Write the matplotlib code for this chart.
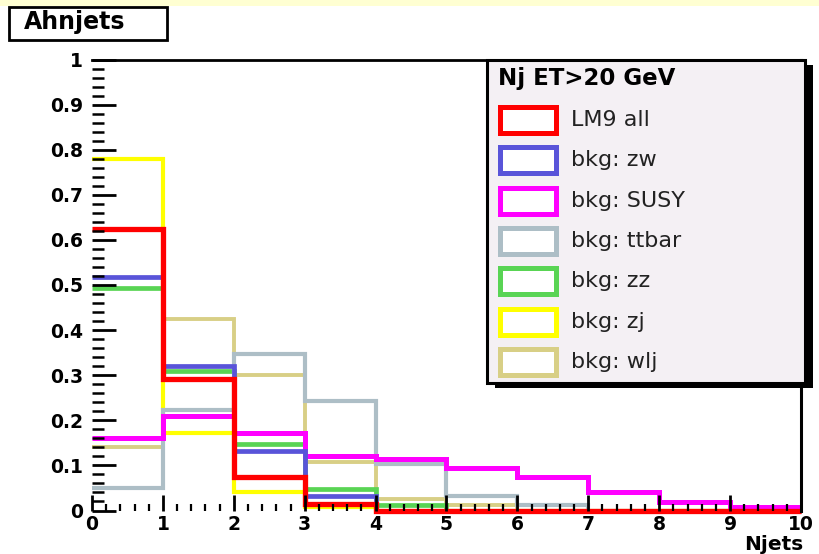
import matplotlib
matplotlib.use("Agg")
import matplotlib.pyplot as plt
import matplotlib.patches as patches
import numpy as np

# jet multiplicity bins 0..10
edges = np.arange(0, 11)

# normalised Njets distributions, one list per sample
lm9_all = [0.624, 0.292, 0.074, 0.014, 0, 0, 0, 0, 0, 0]
bkg_zw = [0.518, 0.320, 0.132, 0.032, 0, 0, 0, 0, 0, 0]
bkg_susy = [0.161, 0.210, 0.172, 0.121, 0.114, 0.094, 0.074, 0.042, 0.019, 0.008]
bkg_ttbar = [0.050, 0.223, 0.346, 0.243, 0.103, 0.032, 0.012, 0, 0, 0]
bkg_zz = [0.493, 0.309, 0.147, 0.048, 0.012, 0, 0, 0, 0, 0]
bkg_zj = [0.779, 0.172, 0.041, 0.008, 0, 0, 0, 0, 0, 0]
bkg_wlj = [0.141, 0.425, 0.300, 0.108, 0.025, 0.012, 0, 0, 0, 0]

labels = ["LM9 all", "bkg: zw", "bkg: SUSY", "bkg: ttbar", "bkg: zz", "bkg: zj", "bkg: wlj"]
colors = ["#FF0000", "#5954D9", "#FF00FF", "#ADBEC6", "#59D454", "#FFFF00", "#D8CF86"]
widths = [3.8, 3.4, 3.6, 3.0, 3.4, 3.0, 2.8]

xtick_labels = [str(i) for i in range(11)]
ytick_labels = ["0", "0.1", "0.2", "0.3", "0.4", "0.5", "0.6", "0.7", "0.8", "0.9", "1"]

W, H = 820, 554


def fx(x):
    return x / W


def fy(y):
    return 1 - y / H


def main():
    fig = plt.figure(figsize=(W / 100, H / 100), dpi=100)
    fig.patch.set_facecolor("white")

    # pale strip across the top of the canvas
    fig.patches.append(patches.Rectangle((0, fy(6)), 1, 6 / H, transform=fig.transFigure,
                                         facecolor="#FFFFD2", edgecolor="none"))

    ax = fig.add_axes([fx(92), fy(510.5), (801 - 92) / W, (510.5 - 59.5) / H])
    ax.set_xlim(0, 10)
    ax.set_ylim(0, 1)

    series = [lm9_all, bkg_zw, bkg_susy, bkg_ttbar, bkg_zz, bkg_zj, bkg_wlj]
    # draw the backgrounds first so the signal ends up on top
    for vals, c, lw in reversed(list(zip(series, colors, widths))):
        ax.stairs(vals, edges, baseline=None, color=c, linewidth=lw, clip_on=False)

    ax.spines["left"].set_visible(False)
    ax.spines["bottom"].set_visible(False)
    ax.spines["top"].set_linewidth(2.0)
    ax.spines["right"].set_linewidth(2.2)

    ax.set_xticks(range(11))
    ax.set_xticks(np.arange(0, 10.01, 0.2), minor=True)
    ax.set_xticklabels(xtick_labels, fontsize=13.5, fontweight="bold", family="DejaVu Sans")
    ax.set_yticks(np.arange(0, 1.001, 0.1))
    ax.set_yticks(np.arange(0, 1.001, 0.02), minor=True)
    ax.set_yticklabels(ytick_labels, fontsize=13.5, fontweight="bold", family="DejaVu Sans")

    ax.tick_params(axis="x", which="major", direction="in", length=11.5, width=2, pad=3)
    ax.tick_params(axis="x", which="minor", direction="in", length=5, width=1.6)
    ax.tick_params(axis="y", which="major", direction="in", length=17, width=2, pad=6.5)
    ax.tick_params(axis="y", which="minor", direction="in", length=8.5, width=1.8)

    fig.text(fx(803), fy(545), "Njets", ha="right", va="center",
             fontsize=14.5, fontweight="bold", family="DejaVu Sans")

    # histogram name box
    fig.patches.append(patches.Rectangle((fx(9), fy(40)), 158 / W, 33 / H,
                                         transform=fig.transFigure, facecolor="white",
                                         edgecolor="black", linewidth=2.0))
    fig.text(fx(24), fy(29), "Ahnjets", ha="left", va="baseline",
             fontsize=17, fontweight="bold", family="DejaVu Sans")

    # legend panel with a drop shadow
    lx0, ly0, lx1, ly1 = 487, 60, 805, 383
    fig.patches.append(patches.Rectangle((fx(lx0 + 8), fy(ly1 + 5)), (lx1 - lx0) / W,
                                         (ly1 - ly0) / H, transform=fig.transFigure,
                                         facecolor="black", edgecolor="none"))
    fig.patches.append(patches.Rectangle((fx(lx0), fy(ly1)), (lx1 - lx0) / W,
                                         (ly1 - ly0) / H, transform=fig.transFigure,
                                         facecolor="#F4F0F4", edgecolor="black",
                                         linewidth=2.2))
    fig.text(fx(498), fy(79), "Nj ET>20 GeV", ha="left", va="center",
             fontsize=16.5, fontweight="bold", family="DejaVu Sans")
    for i, (lab, c, lw) in enumerate(zip(labels, colors, widths)):
        yc = 120 + 40.3 * i
        fig.patches.append(patches.Rectangle((fx(500), fy(yc + 13)), 56 / W, 26 / H,
                                             transform=fig.transFigure, facecolor="white",
                                             edgecolor=c, linewidth=3.6))
        fig.text(fx(571), fy(yc), lab, ha="left", va="center",
                 fontsize=16, color="#222222", family="DejaVu Sans")

    fig.savefig("out.png", dpi=100)


if __name__ == "__main__":
    main()
